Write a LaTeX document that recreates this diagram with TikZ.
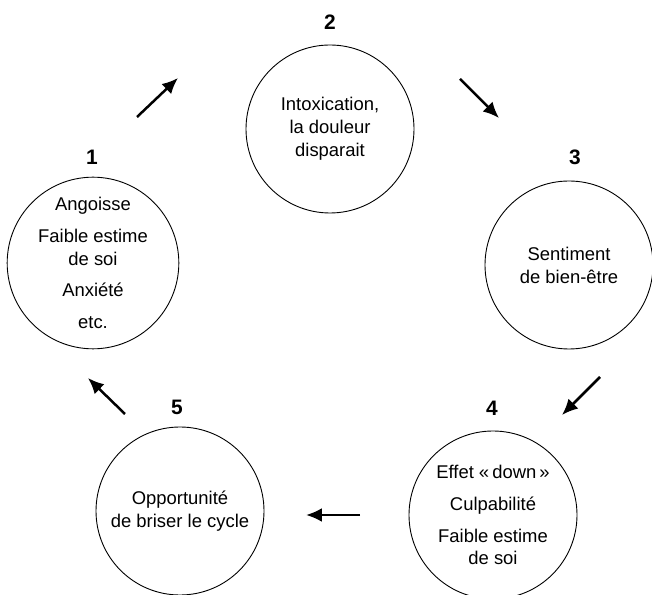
\documentclass[tikz,border=0pt]{standalone}
\usepackage{fontspec}
\setmainfont{Liberation Sans}
\usepackage{tikz}
\usetikzlibrary{arrows,arrows.meta,%
                shapes,positioning}
\tikzstyle{etape}=[circle,draw=black,line width=0.9pt,minimum size=168bp,inner sep=0pt,align=center,font=\fontsize{18.5}{23}\selectfont]
\tikzstyle{numero}=[inner sep=0pt,font=\fontsize{21}{24}\selectfont\bfseries]
\tikzstyle{fleche}=[->,line width=2.5pt]

\begin{document}
\begin{tikzpicture}[>={Latex[length=16pt,width=14pt]},line join=bevel]
	%%
	\useasboundingbox (0bp,0bp) rectangle (652bp,595bp);
	\node (c1) at (93bp,332bp) [etape] {Angoisse\\[9pt] Faible estime\\ de soi\\[9pt] Anxiété\\[9pt] etc.};
	  \node (c2) at (330bp,466bp) [etape] {Intoxication,\\ la douleur\\ disparait};
	  \node (c3) at (569bp,330bp) [etape] {Sentiment\\ de bien-être};
	  \node (c4) at (493bp,80bp) [etape] {Effet «\,down\,»\\[9pt] Culpabilité\\[9pt] Faible estime\\ de soi};
	  \node (c5) at (180bp,84bp) [etape] {Opportunité\\ de briser le cycle};
	  \node (n1) at (92bp,438bp) [numero] {1};
	  \node (n2) at (330bp,573bp) [numero] {2};
	  \node (n3) at (575bp,438bp) [numero] {3};
	  \node (n4) at (492bp,187bp) [numero] {4};
	  \node (n5) at (177bp,188bp) [numero] {5};
	  \coordinate (s12) at (137bp,478bp);
	  \coordinate (e12) at (178bp,517bp);
	  \coordinate (s23) at (460bp,516bp);
	  \coordinate (e23) at (499bp,477bp);
	  \coordinate (s34) at (600bp,218bp);
	  \coordinate (e34) at (562bp,180bp);
	  \coordinate (s45) at (360bp,80bp);
	  \coordinate (e45) at (306bp,80bp);
	  \coordinate (s51) at (125bp,181bp);
	  \coordinate (e51) at (88bp,217bp);
	  \draw [fleche] (s12) -- (e12);
	  \draw [fleche] (s23) -- (e23);
	  \draw [fleche] (s34) -- (e34);
	  \draw [fleche] (s45) -- (e45);
	  \draw [fleche] (s51) -- (e51);
	%
\end{tikzpicture}
\end{document}
